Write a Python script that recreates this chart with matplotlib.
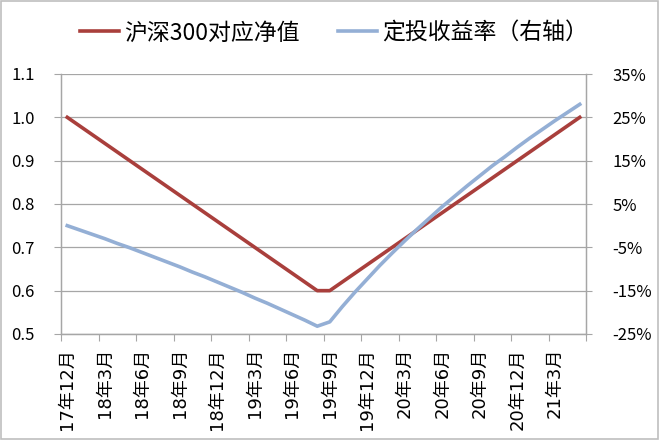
import matplotlib
matplotlib.use('Agg')
import matplotlib.pyplot as plt
from matplotlib.patches import Rectangle
from matplotlib.ticker import FixedLocator, FuncFormatter

plt.rcParams['font.family'] = ['Noto Sans CJK SC', 'DejaVu Sans']

# monthly categories 17年12月 .. 21年5月
months = ['17年12月'] + ['18年%d月' % m for m in range(1, 13)] + \
         ['19年%d月' % m for m in range(1, 13)] + ['20年%d月' % m for m in range(1, 13)] + \
         ['21年%d月' % m for m in range(1, 6)]

# 沪深300对应净值 (left axis)
nav = [1.00, 0.98, 0.96, 0.94, 0.92, 0.90, 0.88, 0.86, 0.84, 0.82, 0.80,
       0.78, 0.76, 0.74, 0.72, 0.70, 0.68, 0.66, 0.64, 0.62, 0.60,
       0.60, 0.62, 0.64, 0.66, 0.68, 0.70, 0.72, 0.74, 0.76, 0.78,
       0.80, 0.82, 0.84, 0.86, 0.88, 0.90, 0.92, 0.94, 0.96, 0.98, 1.00]

# 定投收益率 in % (right axis)
ret = [0.0, -1.0, -2.0, -3.0, -4.1, -5.1, -6.2, -7.3, -8.4, -9.5, -10.7,
       -11.8, -13.0, -14.2, -15.4, -16.7, -17.9, -19.2, -20.5, -21.8, -23.2,
       -22.2, -18.7, -15.4, -12.3, -9.2, -6.3, -3.5, -0.8, 1.8, 4.4,
       6.8, 9.2, 11.5, 13.8, 15.9, 18.1, 20.2, 22.2, 24.2, 26.1, 28.0]

left_ticks = [0.5, 0.6, 0.7, 0.8, 0.9, 1.0, 1.1]
right_ticks = [-25, -15, -5, 5, 15, 25, 35]

red = '#A93F3C'
blue = '#94AFD5'
grid = '#A6A6A6'

fig = plt.figure(figsize=(6.59, 4.40), dpi=100)
ax = fig.add_axes([61 / 659, 1 - 334 / 440, 525 / 659, 260 / 440])
ax2 = ax.twinx()

x = list(range(len(months)))
l1, = ax.plot(x, nav, color=red, lw=2.6, label='沪深300对应净值', zorder=3)
l2, = ax2.plot(x, ret, color=blue, lw=2.6, label='定投收益率（右轴）',
               solid_joinstyle='round', zorder=3)

ax.set_xlim(-0.5, len(months) - 0.5)
ax.set_ylim(0.5, 1.1)
ax.set_yticks(left_ticks)
ax.yaxis.set_major_formatter(FuncFormatter(lambda v, p: '%.1f' % v))
ax.grid(axis='y', color=grid, lw=0.9)
ax.set_axisbelow(True)

ax2.set_ylim(-25, 35)
ax2.set_yticks(right_ticks)
ax2.yaxis.set_major_formatter(FuncFormatter(lambda v, p: '%d%%' % v))

# category ticks between groups of 3 months, labels on every 3rd month
ax.xaxis.set_major_locator(FixedLocator([i - 0.5 for i in range(0, len(months) + 1, 3)]))
ax.xaxis.set_major_formatter(FuncFormatter(lambda v, p: ''))
lab_pos = list(range(0, len(months), 3))
ax.xaxis.set_minor_locator(FixedLocator(lab_pos))
ax.set_xticklabels([months[i] for i in lab_pos], minor=True, rotation=90, fontsize=13,
                   family=['DejaVu Sans', 'Noto Sans CJK SC'])
ax.tick_params(axis='x', which='major', length=5, color=grid, direction='out')
ax.tick_params(axis='x', which='minor', length=0, pad=10)
ax.tick_params(axis='y', length=5, color=grid, labelsize=12, pad=14)
ax2.tick_params(axis='y', length=4, color=grid, labelsize=12, pad=15)

for a in (ax, ax2):
    a.spines['top'].set_visible(False)
    for s in ('left', 'right', 'bottom'):
        a.spines[s].set_color(grid)
        a.spines[s].set_linewidth(0.9)

fig.legend(handles=[l1, l2], loc='center', bbox_to_anchor=(0.507, 1 - 33 / 440),
           ncol=2, frameon=False, fontsize=16.5, handlelength=1.7,
           handletextpad=0.2, columnspacing=1.7)

fig.patches.append(Rectangle((0.002, 0.002), 0.996, 0.995, transform=fig.transFigure,
                             fill=False, edgecolor='#BFBFBF', lw=1.2))

fig.savefig('out.png', dpi=100)
